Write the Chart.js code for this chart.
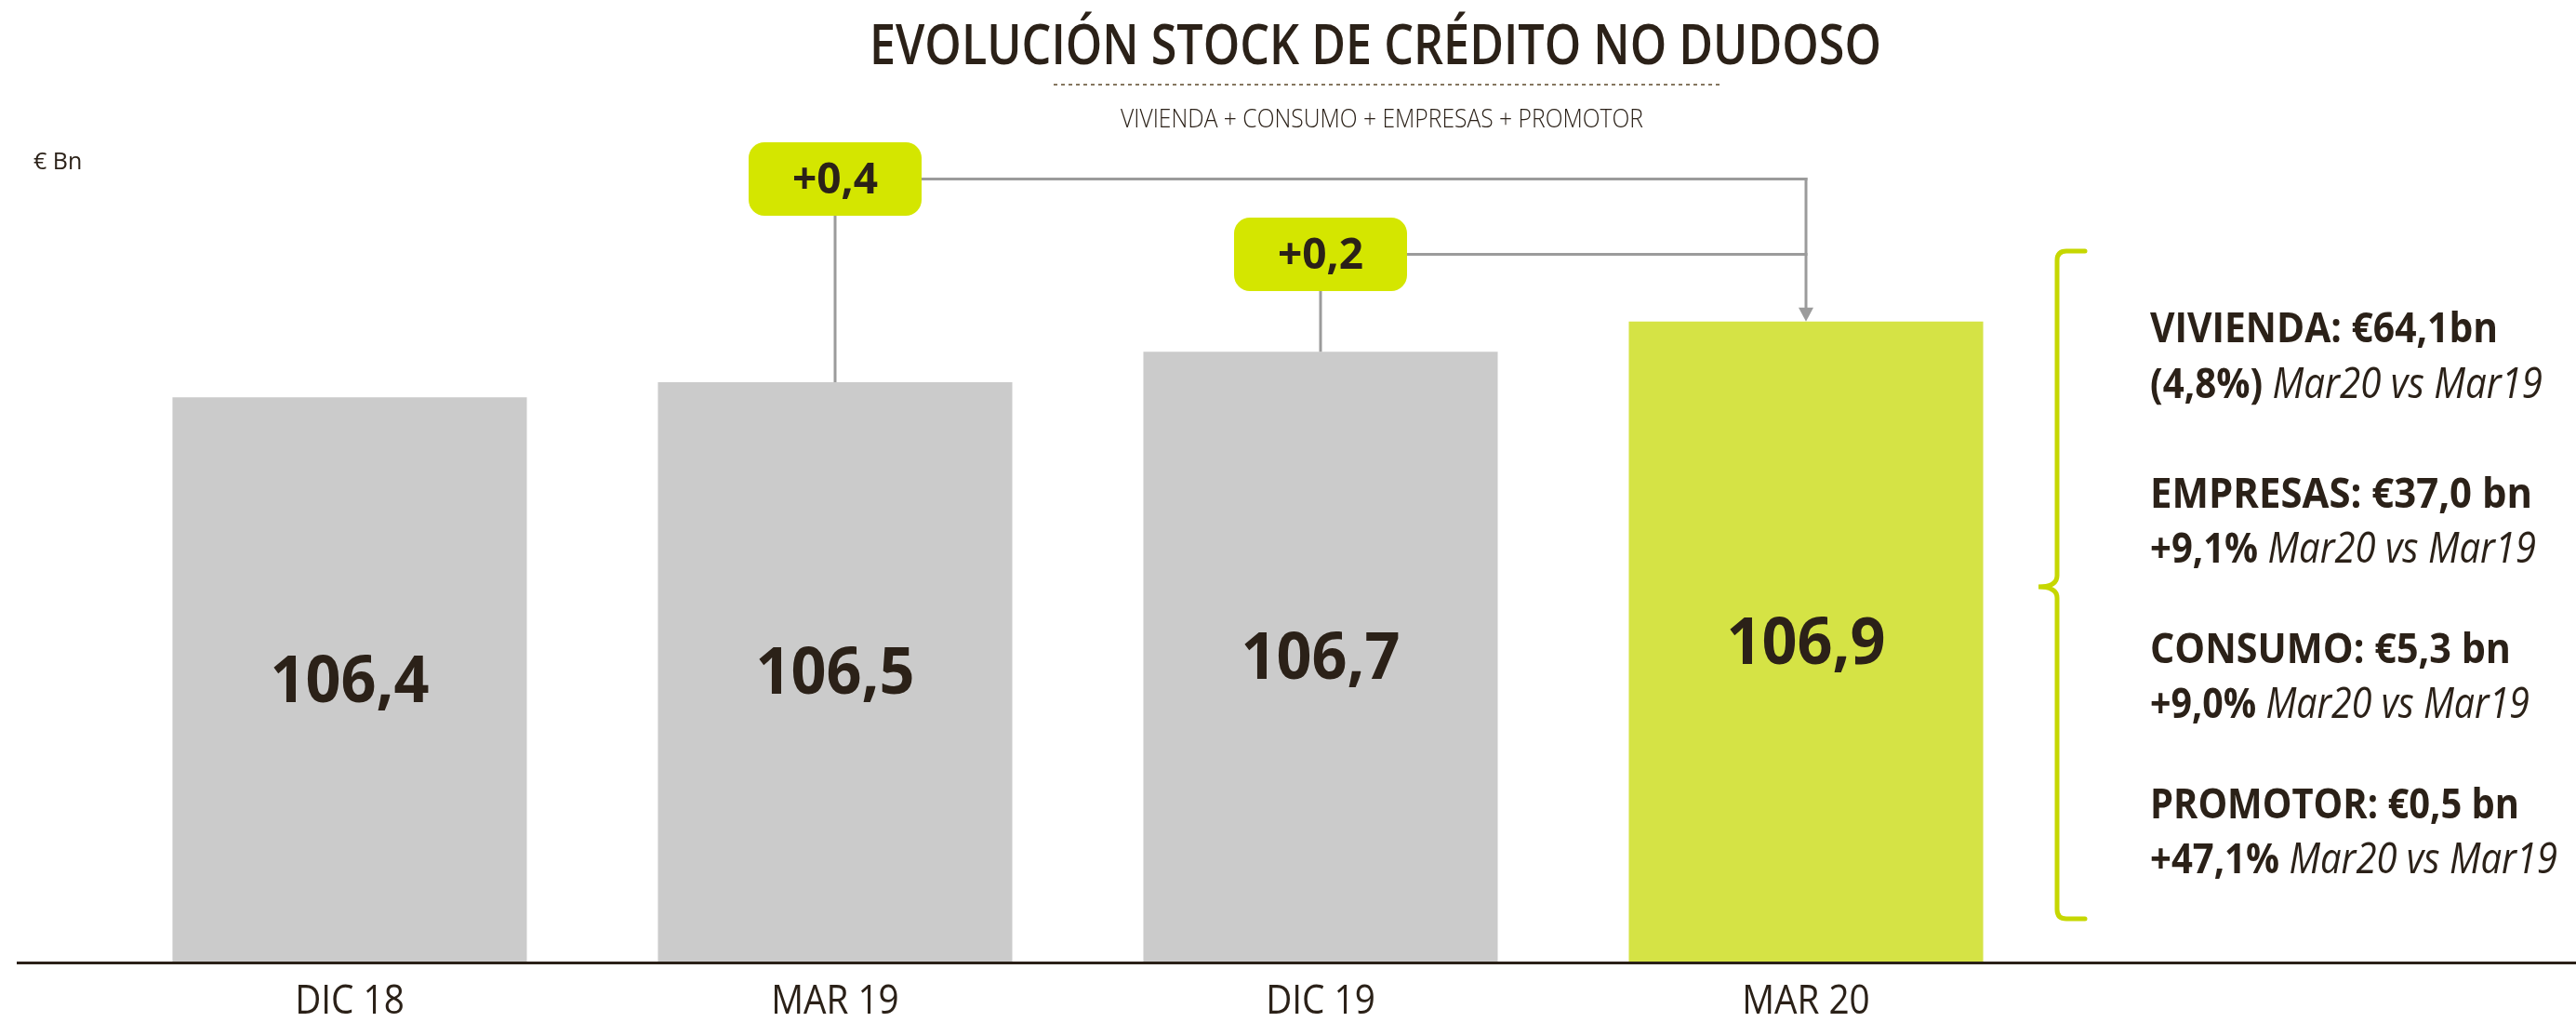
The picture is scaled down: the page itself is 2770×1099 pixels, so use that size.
<!DOCTYPE html>
<html lang="es">
<head>
<meta charset="utf-8">
<title>Evolución stock de crédito no dudoso</title>
<script src="https://cdn.jsdelivr.net/npm/chart.js@4.4.0/dist/chart.umd.min.js"></script>
<style>
  html, body { margin: 0; padding: 0; background: #fff; }
  #lienzo { position: relative; width: 2770px; height: 1099px; overflow: hidden; font-family: 'Open Sans', sans-serif; color: #2b2118; }
  #grafico { position: absolute; left: 0; top: 0; }
  .txt { position: absolute; white-space: nowrap; line-height: 1; transform-origin: 0 50%; }
  .neg { font-weight: 700; }
  .ita { font-style: italic; font-weight: 400; }
</style>
</head>
<body>
<div id="lienzo">
  <canvas id="grafico" width="2770" height="1099"></canvas>
  <div class="txt" data-x="935" data-y="46" data-w="1088" style="font-size:59px;font-weight:600">EVOLUCIÓN STOCK DE CRÉDITO NO DUDOSO</div>
  <div class="txt" data-x="1205" data-y="126" data-w="562" style="font-size:28px;font-weight:300">VIVIENDA + CONSUMO + EMPRESAS + PROMOTOR</div>
  <div class="txt" data-x="36" data-y="172" style="font-size:25px">€ Bn</div>
</div>
<script>
// datos del grafico
const periodos = ['DIC 18', 'MAR 19', 'DIC 19', 'MAR 20']
const stockNoDudoso = [106.4, 106.5, 106.7, 106.9]
// indices comparados contra el ultimo periodo
const comparados = [1, 2]

// desglose por segmento (Mar20 vs Mar19)
const segmentos = ['VIVIENDA', 'EMPRESAS', 'CONSUMO', 'PROMOTOR']
const saldos = ['€64,1bn', '€37,0 bn', '€5,3 bn', '€0,5 bn']
const variaciones = ['(4,8%)', '+9,1%', '+9,0%', '+47,1%']
const comparativa = 'Mar20 vs Mar19'

const TINTA = '#2b2118'
const GRIS = '#cbcbcb'
const VERDE = '#d5e345'
const CAJA = '#d4e600'
const LLAVE = '#c6d700'
const CONECTOR = '#9b9b9b'

const fmt = v => v.toFixed(1).replace('.', ',')

// panel derecho
const panelY = [[350, 410], [528, 587], [695, 754], [862, 921]]
const panelW = [[374, 422], [411, 415], [388, 408], [397, 438]]
const lienzo = document.getElementById('lienzo')
segmentos.forEach((s, i) => {
  const l1 = document.createElement('div')
  l1.className = 'txt neg'
  l1.style.fontSize = '45px'
  l1.textContent = `${s}: ${saldos[i]}`
  l1.dataset.x = 2312
  l1.dataset.y = panelY[i][0]
  l1.dataset.w = panelW[i][0]
  lienzo.appendChild(l1)
  const l2 = document.createElement('div')
  l2.className = 'txt'
  l2.style.fontSize = '45px'
  l2.innerHTML = `<span class="neg">${variaciones[i]}</span> <span class="ita">${comparativa}</span>`
  l2.dataset.x = 2312
  l2.dataset.y = panelY[i][1]
  l2.dataset.w = panelW[i][1]
  lienzo.appendChild(l2)
})

document.querySelectorAll('.txt').forEach(el => {
  el.style.left = el.dataset.x + 'px'
  el.style.top = el.dataset.y + 'px'
  let t = 'translateY(-50%)'
  if (el.dataset.w) {
    const ancho = el.getBoundingClientRect().width
    t += ` scaleX(${el.dataset.w / ancho})`
  }
  el.style.transform = t
})

function textoComprimido(ctx, texto, x, y, k) {
  ctx.save()
  ctx.translate(x, y)
  ctx.scale(k, 1)
  ctx.fillText(texto, 0, 0)
  ctx.restore()
}

const decoracion = {
  id: 'decoracion',
  afterDatasetsDraw(chart) {
    const ctx = chart.ctx
    const area = chart.chartArea
    const barras = chart.getDatasetMeta(0).data
    const ultima = barras[barras.length - 1]

    // linea base
    ctx.save()
    ctx.strokeStyle = TINTA
    ctx.lineWidth = 3
    ctx.beginPath()
    ctx.moveTo(18, area.bottom + 1.5)
    ctx.lineTo(2770, area.bottom + 1.5)
    ctx.stroke()

    // valores y etiquetas
    ctx.fillStyle = TINTA
    ctx.textAlign = 'center'
    ctx.textBaseline = 'middle'
    barras.forEach((b, i) => {
      ctx.font = '700 70px "Open Sans"'
      textoComprimido(ctx, fmt(stockNoDudoso[i]), b.x, (b.y + area.bottom) / 2 + 4, 0.95)
      ctx.font = '400 43px "Open Sans"'
      textoComprimido(ctx, periodos[i], b.x, area.bottom + 44, 0.9)
    })

    // conectores con cajas de variacion
    const cajasY = [192.5, 273.5]
    const cw = 186, ch = 79
    ctx.strokeStyle = CONECTOR
    ctx.lineWidth = 3
    comparados.forEach((idx, k) => {
      const b = barras[idx]
      const cy = cajasY[k]
      ctx.beginPath()
      ctx.moveTo(b.x, cy + ch / 2)
      ctx.lineTo(b.x, b.y)
      ctx.moveTo(b.x + cw / 2, cy)
      ctx.lineTo(ultima.x + 1.5, cy)
      ctx.stroke()
    })
    ctx.beginPath()
    ctx.moveTo(ultima.x, cajasY[0] - 1.5)
    ctx.lineTo(ultima.x, ultima.y - 14)
    ctx.stroke()
    ctx.fillStyle = CONECTOR
    ctx.beginPath()
    ctx.moveTo(ultima.x - 8, ultima.y - 15)
    ctx.lineTo(ultima.x + 8, ultima.y - 15)
    ctx.lineTo(ultima.x, ultima.y)
    ctx.closePath()
    ctx.fill()

    comparados.forEach((idx, k) => {
      const b = barras[idx]
      const cy = cajasY[k]
      ctx.fillStyle = CAJA
      ctx.beginPath()
      ctx.roundRect(b.x - cw / 2, cy - ch / 2, cw, ch, 17)
      ctx.fill()
      ctx.fillStyle = TINTA
      ctx.font = '700 46px "Open Sans"'
      const d = stockNoDudoso[stockNoDudoso.length - 1] - stockNoDudoso[idx]
      ctx.fillText('+' + fmt(d), b.x, cy + 2)
    })

    // llave del panel derecho
    const sx = 2212, tip = 2192, brazo = 2242
    const arriba = 270, medio = 631, abajo = 988
    ctx.strokeStyle = LLAVE
    ctx.lineWidth = 5
    ctx.lineCap = 'round'
    ctx.beginPath()
    ctx.moveTo(brazo, arriba)
    ctx.lineTo(sx + 10, arriba)
    ctx.quadraticCurveTo(sx, arriba, sx, arriba + 10)
    ctx.lineTo(sx, medio - 12)
    ctx.quadraticCurveTo(sx, medio, tip, medio)
    ctx.quadraticCurveTo(sx, medio, sx, medio + 12)
    ctx.lineTo(sx, abajo - 10)
    ctx.quadraticCurveTo(sx, abajo, sx + 10, abajo)
    ctx.lineTo(brazo, abajo)
    ctx.stroke()

    // linea punteada bajo el titulo
    ctx.strokeStyle = '#85765f'
    ctx.lineWidth = 2
    ctx.lineCap = 'butt'
    ctx.setLineDash([4, 4])
    ctx.beginPath()
    ctx.moveTo(1133, 91)
    ctx.lineTo(1850, 91)
    ctx.stroke()
    ctx.restore()
  }
}

new Chart(document.getElementById('grafico'), {
  type: 'bar',
  data: {
    labels: periodos,
    datasets: [{
      data: stockNoDudoso,
      backgroundColor: c => c.dataIndex === stockNoDudoso.length - 1 ? VERDE : GRIS,
      borderWidth: 0,
      categoryPercentage: 1,
      barPercentage: 0.73,
    }]
  },
  options: {
    responsive: false,
    animation: false,
    devicePixelRatio: 1,
    layout: { padding: { left: 115, right: 567, top: 300, bottom: 65 } },
    scales: {
      x: { display: false },
      y: { display: false, min: 102.68, max: 107.18 },
    },
    plugins: {
      legend: { display: false },
      tooltip: { enabled: false },
    }
  },
  plugins: [decoracion]
})
</script>
</body>
</html>
